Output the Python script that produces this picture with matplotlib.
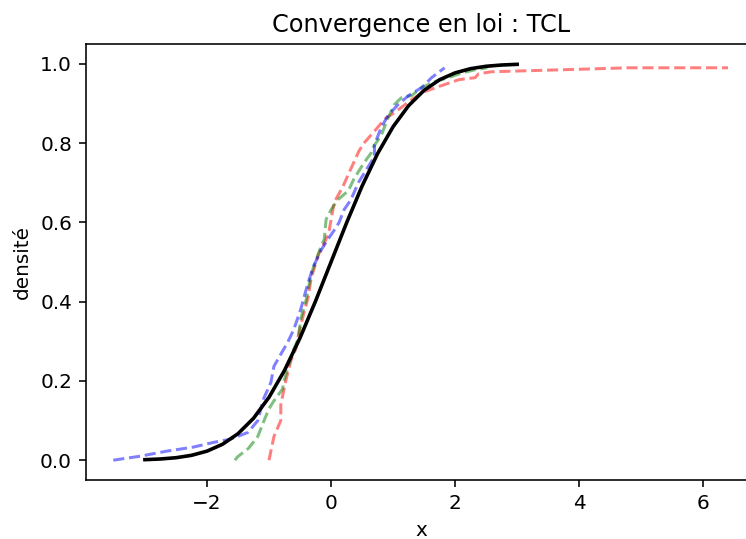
import matplotlib
matplotlib.use("Agg")
import matplotlib.pyplot as plt

# theoretical N(0,1) distribution function
x_norm = [-3.0, -2.75, -2.5, -2.25, -2.0, -1.75, -1.5, -1.25, -1.0, -0.75, -0.5, -0.25, 0.0,
          0.25, 0.5, 0.75, 1.0, 1.25, 1.5, 1.75, 2.0, 2.25, 2.5, 2.75, 3.0]
F_norm = [0.0013, 0.0030, 0.0062, 0.0122, 0.0228, 0.0401, 0.0668, 0.1056, 0.1587, 0.2266,
          0.3085, 0.4013, 0.5, 0.5987, 0.6915, 0.7734, 0.8413, 0.8944, 0.9332, 0.9599,
          0.9772, 0.9878, 0.9938, 0.9970, 0.9987]

# empirical distribution functions of the standardised sums
x_r = [-1.00, -0.92, -0.81, -0.81, -0.73, -0.65, -0.57, -0.52, -0.44, -0.37, -0.32, -0.20,
       -0.10, -0.03, 0.05, 0.19, 0.29, 0.45, 0.53, 0.70, 0.86, 1.05, 1.30, 1.51, 1.78,
       2.06, 2.32, 2.38, 2.59, 3.72, 4.81, 6.40]
F_r = [0.00, 0.06, 0.10, 0.14, 0.20, 0.25, 0.28, 0.32, 0.37, 0.41, 0.46, 0.52,
       0.55, 0.58, 0.65, 0.69, 0.725, 0.78, 0.80, 0.83, 0.86, 0.88, 0.91, 0.93, 0.945,
       0.96, 0.965, 0.975, 0.98, 0.985, 0.99, 0.99]

x_g = [-1.55, -1.51, -1.33, -1.18, -1.09, -1.00, -0.92, -0.78, -0.76, -0.70, -0.60, -0.53,
       -0.49, -0.40, -0.32, -0.24, -0.16, -0.11, -0.08, 0.00, 0.11, 0.28, 0.37, 0.53, 0.65,
       0.68, 0.81, 0.92, 1.02, 1.13, 1.30, 1.46, 1.67, 1.89, 2.11, 2.32, 2.52]
F_g = [0.00, 0.008, 0.03, 0.06, 0.096, 0.13, 0.15, 0.18, 0.20, 0.23, 0.28, 0.305,
       0.355, 0.405, 0.47, 0.505, 0.54, 0.557, 0.607, 0.632, 0.657, 0.68, 0.71, 0.75, 0.776,
       0.79, 0.82, 0.864, 0.897, 0.914, 0.92, 0.94, 0.955, 0.965, 0.977, 0.985, 0.99]

x_b = [-3.51, -3.08, -2.64, -2.22, -1.89, -1.62, -1.34, -1.18, -1.09, -0.97, -0.92, -0.80,
       -0.70, -0.60, -0.49, -0.42, -0.37, -0.28, -0.16, -0.05, 0.05, 0.13, 0.21, 0.32, 0.44,
       0.57, 0.70, 0.70, 0.81, 0.92, 1.08, 1.25, 1.46, 1.62, 1.83]
F_b = [0.00, 0.01, 0.023, 0.033, 0.045, 0.053, 0.07, 0.10, 0.154, 0.196, 0.237, 0.27,
       0.297, 0.33, 0.38, 0.42, 0.448, 0.49, 0.53, 0.557, 0.58, 0.60, 0.632, 0.657, 0.70,
       0.733, 0.766, 0.796, 0.84, 0.87, 0.897, 0.92, 0.94, 0.965, 0.99]

dpi = 144
fig = plt.figure(figsize=(746 / dpi, 539 / dpi), dpi=dpi)
ax = fig.add_axes([86 / 746, 59 / 539, 670 / 746, 436 / 539])

ax.plot(x_r, F_r, 'r--', alpha=0.5)
ax.plot(x_g, F_g, 'g--', alpha=0.5)
ax.plot(x_b, F_b, 'b--', alpha=0.5)
ax.plot(x_norm, F_norm, 'k', linewidth=1.8)

ax.set_xlim(-3.95, 6.85)
ax.set_ylim(-0.05, 1.05)
ax.spines['right'].set_visible(False)
ax.set_title("Convergence en loi : TCL")
ax.set_xlabel("x")
ax.set_ylabel("densité")

fig.savefig("out.png", dpi=dpi)
